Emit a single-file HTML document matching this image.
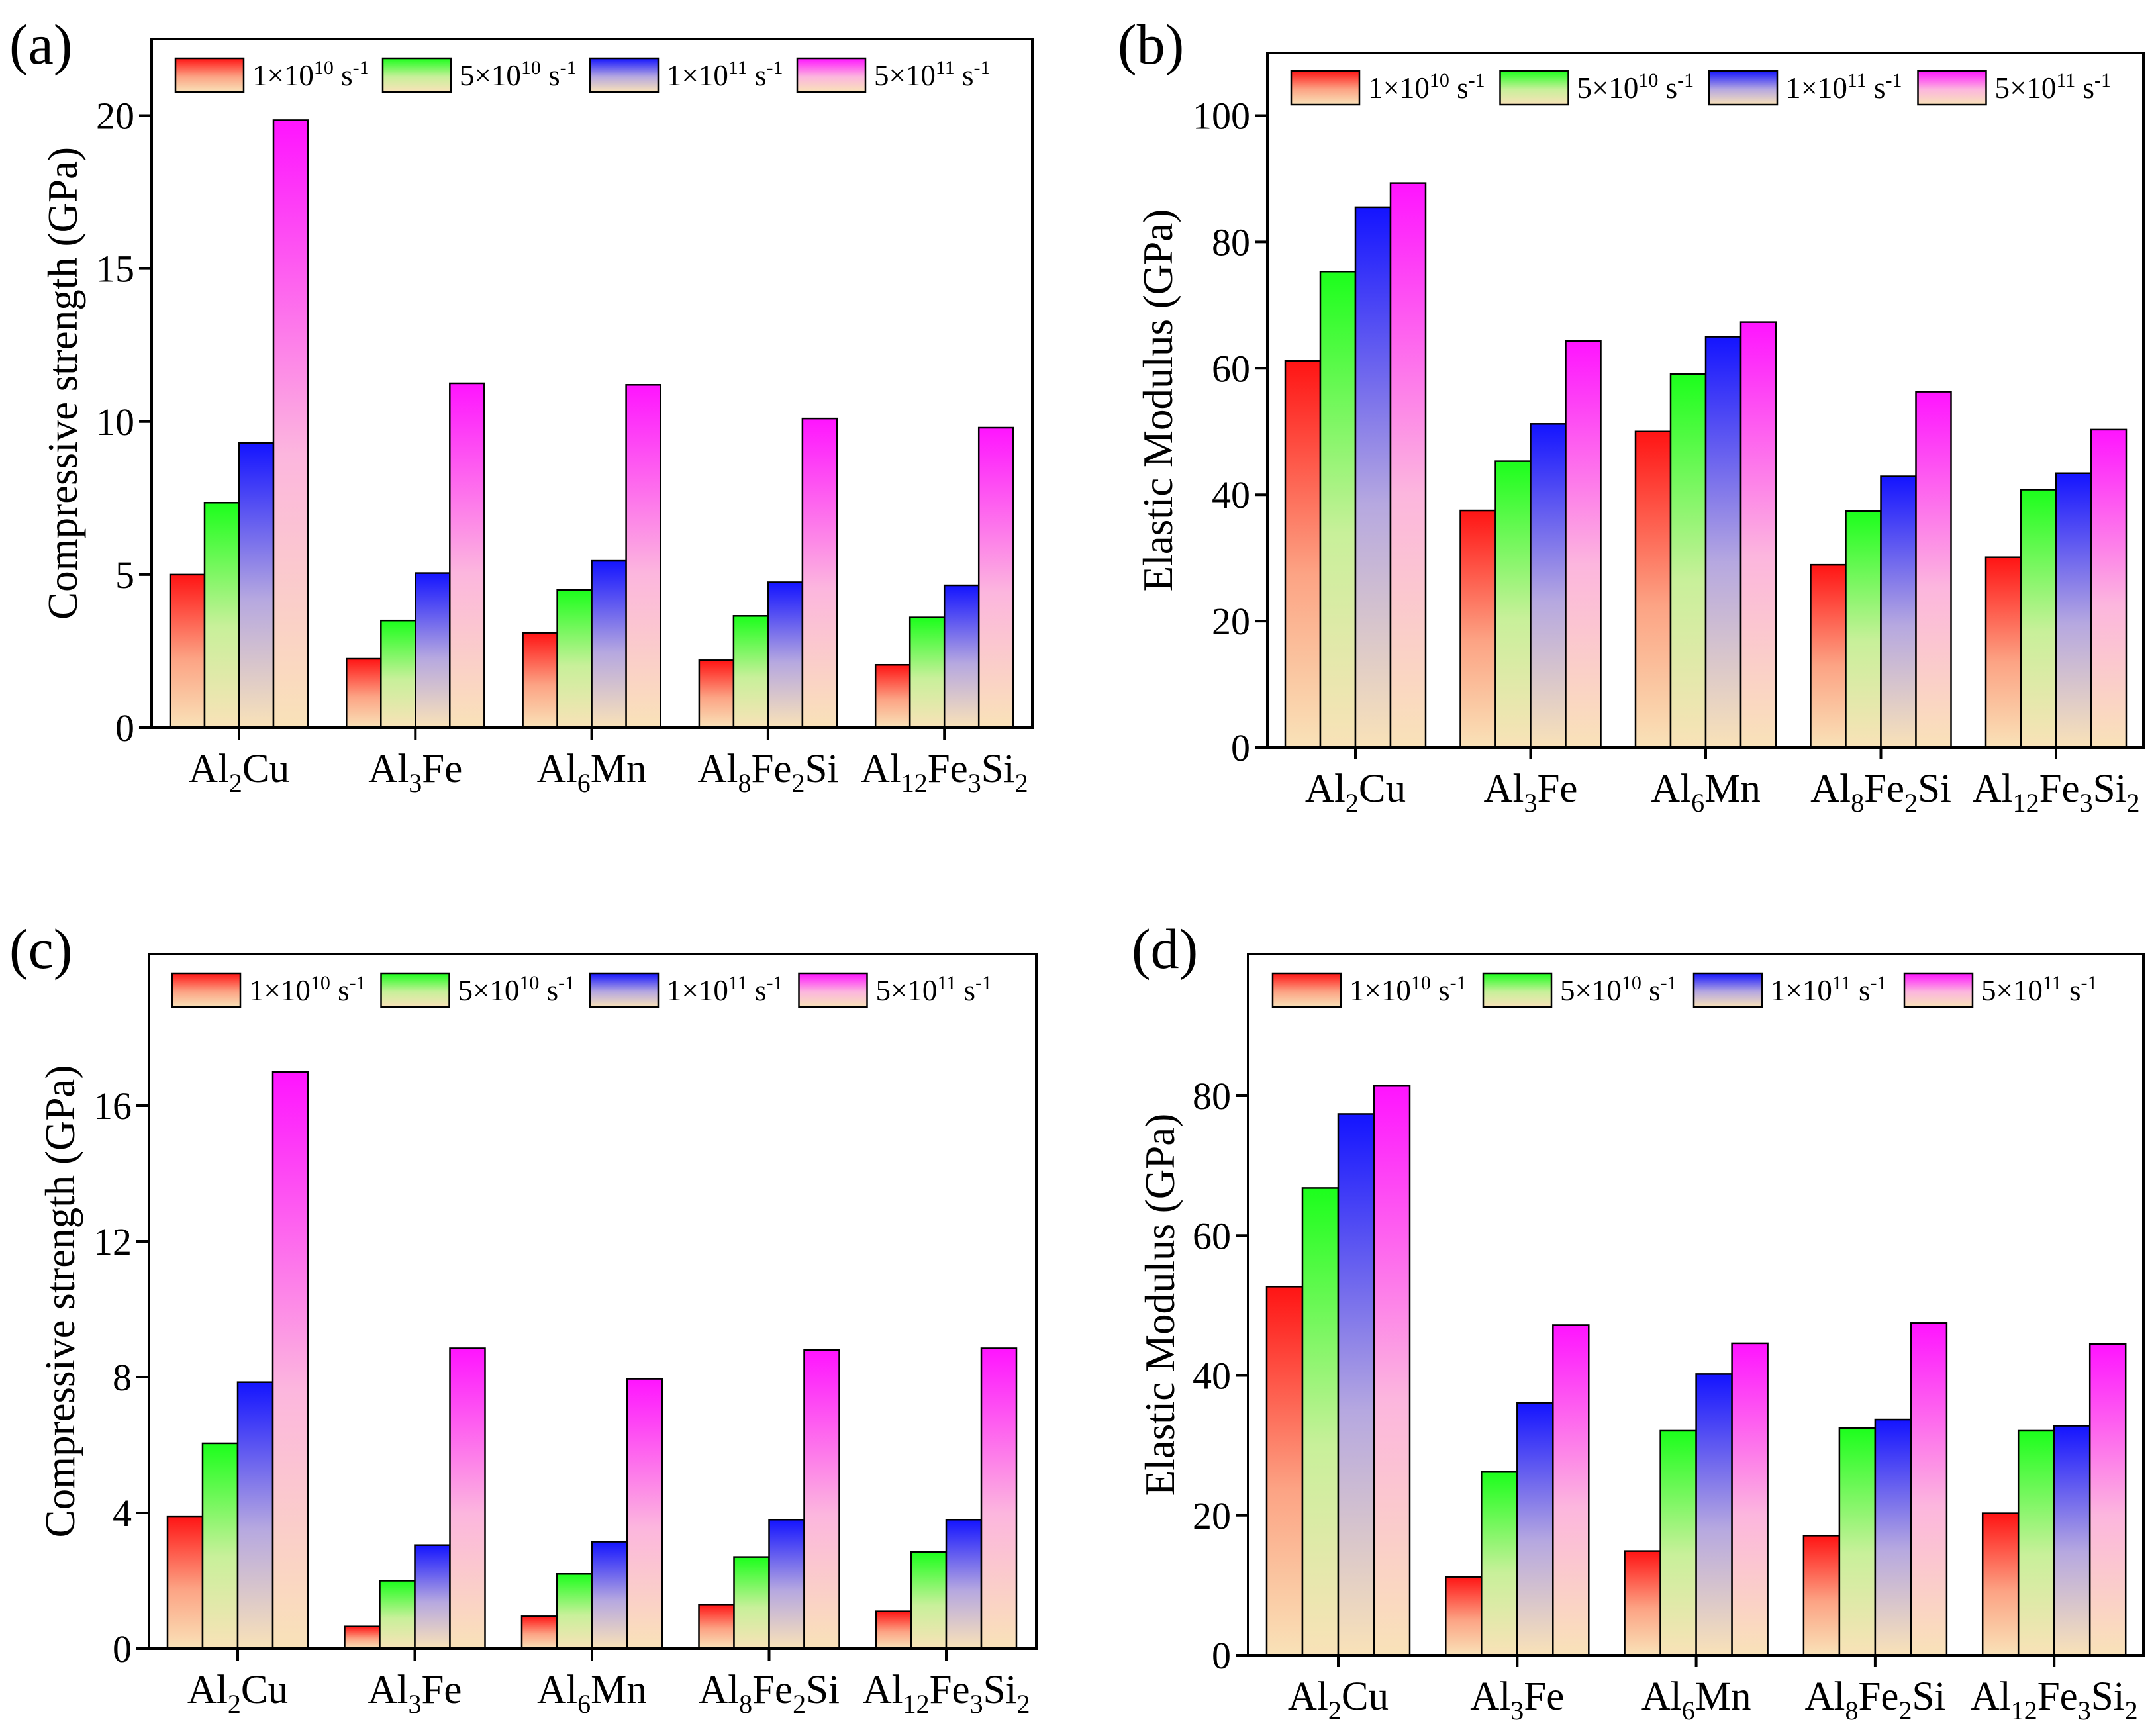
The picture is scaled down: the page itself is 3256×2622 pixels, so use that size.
<!DOCTYPE html>
<html><head><meta charset="utf-8"><style>
html,body{margin:0;padding:0;background:#fff;}
svg{display:block;font-family:"Liberation Serif",serif;}
</style></head><body>
<svg id="fig" width="3256" height="2622" viewBox="0 0 3256 2622" xmlns="http://www.w3.org/2000/svg">
<defs>
<linearGradient id="g0" x1="0" y1="0" x2="0" y2="1"><stop offset="0" stop-color="#ff1414"/><stop offset="0.55" stop-color="#fca384"/><stop offset="1" stop-color="#f9e2b8"/></linearGradient>
<linearGradient id="g1" x1="0" y1="0" x2="0" y2="1"><stop offset="0" stop-color="#1cff1c"/><stop offset="0.55" stop-color="#c8f09a"/><stop offset="1" stop-color="#f9e2b8"/></linearGradient>
<linearGradient id="g2" x1="0" y1="0" x2="0" y2="1"><stop offset="0" stop-color="#1414ff"/><stop offset="0.55" stop-color="#b6a8e0"/><stop offset="1" stop-color="#f9e2b8"/></linearGradient>
<linearGradient id="g3" x1="0" y1="0" x2="0" y2="1"><stop offset="0" stop-color="#ff14ff"/><stop offset="0.55" stop-color="#fcb6de"/><stop offset="1" stop-color="#f9e2b8"/></linearGradient>
</defs>
</svg>
<script>
const categories = ["Al2Cu","Al3Fe","Al6Mn","Al8Fe2Si","Al12Fe3Si2"];
const seriesLabels = [["1","10"],["5","10"],["1","11"],["5","11"]];
const aVals = [[5.0,2.25,3.1,2.2,2.05],[7.35,3.5,4.5,3.65,3.6],[9.3,5.05,5.45,4.75,4.65],[19.85,11.25,11.2,10.1,9.8]];
const bVals = [[61.2,37.5,50.0,28.9,30.1],[75.3,45.3,59.1,37.4,40.8],[85.5,51.2,65.0,42.9,43.4],[89.3,64.3,67.3,56.3,50.3]];
const cVals = [[3.9,0.65,0.95,1.3,1.1],[6.05,2.0,2.2,2.7,2.85],[7.85,3.05,3.15,3.8,3.8],[17.0,8.85,7.95,8.8,8.85]];
const dVals = [[52.7,11.2,14.9,17.1,20.3],[66.8,26.2,32.1,32.5,32.1],[77.4,36.1,40.2,33.7,32.8],[81.4,47.2,44.6,47.5,44.5]];
const aTicks = [0,5,10,15,20];
const bTicks = [0,20,40,60,80,100];
const cTicks = [0,4,8,12,16];
const dTicks = [0,20,40,60,80];

const NS="http://www.w3.org/2000/svg";
const svg=document.getElementById('fig');
function mk(tag,attrs,parent){const e=document.createElementNS(NS,tag);for(const k in attrs)e.setAttribute(k,attrs[k]);(parent||svg).appendChild(e);return e;}

const catParts={"Al2Cu":[["Al",0],["2",1],["Cu",0]],"Al3Fe":[["Al",0],["3",1],["Fe",0]],"Al6Mn":[["Al",0],["6",1],["Mn",0]],"Al8Fe2Si":[["Al",0],["8",1],["Fe",0],["2",1],["Si",0]],"Al12Fe3Si2":[["Al",0],["12",1],["Fe",0],["3",1],["Si",0],["2",1]]};

function panel(o){
  const g=mk('g',{});
  
  
  const ppu=(o.zero-o.ref)/o.refVal;
  const y=v=>o.zero-v*ppu;
  const x=i=>o.c0+i*o.step;
  o.vals.forEach((ser,s)=>{
    ser.forEach((v,i)=>{
      const bx=x(i)-2*o.bw+s*o.bw;
      const r=mk('rect',{x:bx,y:y(v),width:o.bw,height:o.zero-y(v),fill:'url(#g'+s+')',stroke:'#000','stroke-width':2.5},g);
      
      
    });
  });
  const fr=mk('rect',{x:o.L,y:o.T,width:o.R-o.L,height:o.zero-o.T,fill:'none',stroke:'#000','stroke-width':4},g);
  
  
  o.ticks.forEach(t=>{
    const ty=y(t);
    const tl=mk('line',{x1:o.L-19,x2:o.L,y1:ty,y2:ty,stroke:'#000','stroke-width':4},g);
    
    
    const tx=mk('text',{x:o.L-26,y:ty+20,'text-anchor':'end','font-size':58},g);
    tx.textContent=t;
    
    
  });
  categories.forEach((c,i)=>{
    const xl=mk('line',{x1:x(i),x2:x(i),y1:o.zero,y2:o.zero+18,stroke:'#000','stroke-width':4},g);
    
    
    const t=mk('text',{x:x(i),y:o.zero+82,'text-anchor':'middle','font-size':61},g);
    
    
    let sub=false;
    catParts[c].forEach(p=>{
      const ts=mk('tspan',p[1]?{'font-size':40}:{},t);
      ts.textContent=p[0];
      if(p[1]&&!sub){ts.setAttribute('dy',15);sub=true;}
      else if(!p[1]&&sub){ts.setAttribute('dy',-15);sub=false;}
    });
  });
  const yt=mk('text',{x:0,y:0,'text-anchor':'middle','font-size':63,transform:'translate('+o.tx+','+((o.T+o.zero)/2+(o.tdy||0))+') rotate(-90)'},g);
  yt.textContent=o.title;
  
  
  const pl=mk('text',{x:o.lx,y:o.ly,'font-size':86},g);
  pl.textContent='('+o.id+')';
  
  
  seriesLabels.forEach((lab,s)=>{
    const lx=o.legX+s*o.legStep;
    const lg=mk('g',{},g);
    
    
    mk('rect',{x:lx,y:o.legY,width:103,height:51,fill:'url(#g'+s+')',stroke:'#000','stroke-width':2.5},lg);
    const t=mk('text',{x:lx+116,y:o.legY+41,'font-size':45},lg);
    const a=mk('tspan',{},t);a.textContent=lab[0]+'×10';
    const b=mk('tspan',{'font-size':30,dy:-17},t);b.textContent=lab[1];
    const c=mk('tspan',{dy:17},t);c.textContent=' s';
    const d=mk('tspan',{'font-size':30,dy:-17},t);d.textContent='-1';
  });
}

panel({id:'a',vals:aVals,ticks:aTicks,L:229,R:1559,T:59,zero:1099,ref:174.5,refVal:20,c0:361,step:266.3,bw:52,title:'Compressive strength (GPa)',tx:116,lx:14,ly:96,legX:265,legY:88,legStep:313});
panel({id:'b',vals:bVals,ticks:bTicks,L:1914,R:3237,T:80,zero:1129,ref:174.5,refVal:100,c0:2047,step:264.5,bw:53,title:'Elastic Modulus (GPa)',tx:1770,lx:1688,ly:96,legX:1950,legY:107,legStep:315.5});
panel({id:'c',vals:cVals,ticks:cTicks,L:225,R:1565,T:1441,zero:2490,ref:1670,refVal:16,c0:359,step:267.5,bw:53,title:'Compressive strength (GPa)',tx:112,lx:14,ly:1462,legX:260,legY:1470,legStep:315.5});
panel({id:'d',vals:dVals,ticks:dTicks,L:1885,R:3237,T:1441,zero:2500,ref:1655,refVal:80,c0:2021,step:270.3,bw:54,title:'Elastic Modulus (GPa)',tx:1773,lx:1709,ly:1462,legX:1922,legY:1470,legStep:318});
</script>
</body></html>
